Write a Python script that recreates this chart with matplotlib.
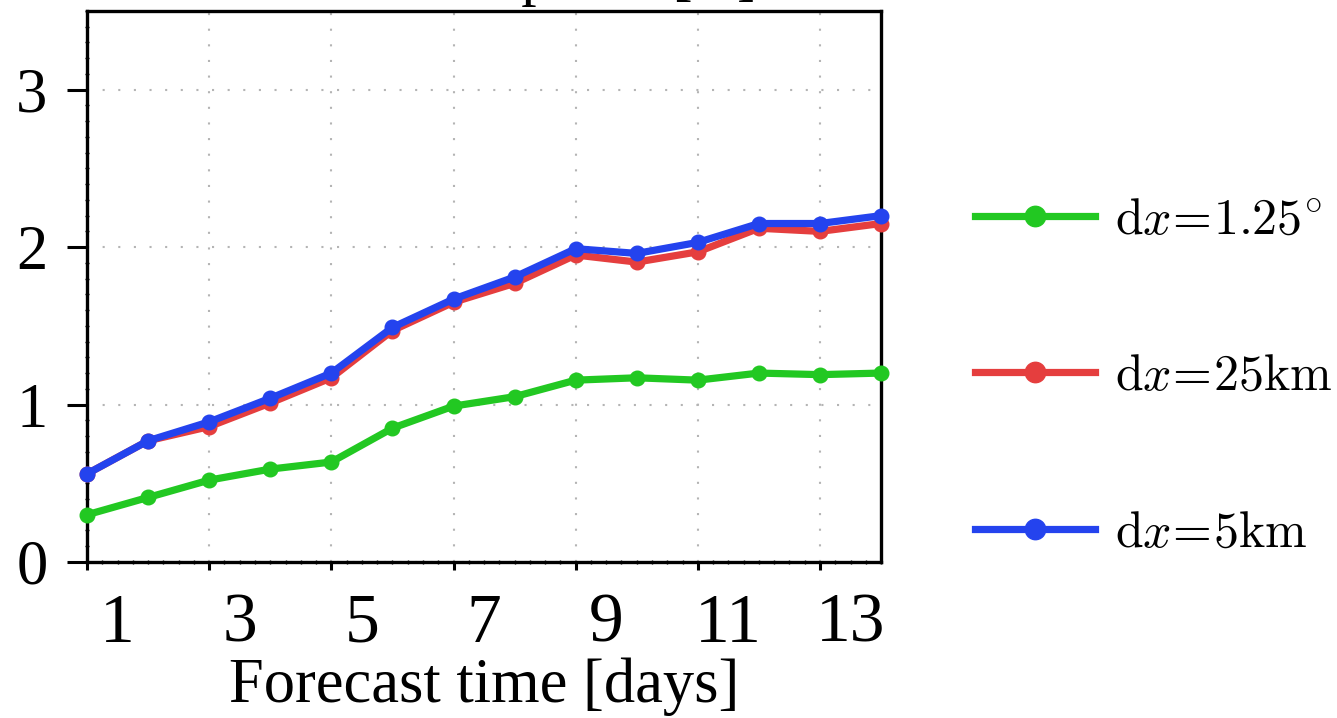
import matplotlib.pyplot as plt
from matplotlib.ticker import MultipleLocator

plt.rcParams['font.family'] = ['Liberation Serif', 'DejaVu Serif']
plt.rcParams['mathtext.fontset'] = 'cm'

## spread per forecast day for the three grid spacings
days = list(range(1, 15))
spread_125deg = [0.30, 0.41, 0.52, 0.59, 0.635, 0.85, 0.99, 1.05, 1.155, 1.17, 1.155, 1.20, 1.19, 1.20]
spread_25km = [0.56, 0.77, 0.86, 1.01, 1.17, 1.47, 1.65, 1.77, 1.95, 1.905, 1.97, 2.12, 2.10, 2.15]
spread_5km = [0.56, 0.77, 0.89, 1.04, 1.20, 1.49, 1.67, 1.81, 1.99, 1.96, 2.03, 2.15, 2.15, 2.20]

labels = [r"$\mathrm{d}x\!=\!1.25^{\circ}$", r"$\mathrm{d}x\!=\!25\mathrm{km}$", r"$\mathrm{d}x\!=\!5\mathrm{km}$"]
colors = ["#22c822", "#e53e3e", "#2443ee"]
day_ticks = [1, 3, 5, 7, 9, 11, 13]

fig = plt.figure(figsize=(13.37, 7.18), dpi=100)
ax = fig.add_axes([0.0651, 0.2173, 0.5939, 0.7674])

for ys, c, lab in zip([spread_125deg, spread_25km, spread_5km], colors, labels):
    ax.plot(days, ys, color=c, lw=5.2, marker="o", ms=10.5, label=lab, clip_on=False, zorder=3)

ax.set_xlim(1, 14)
ax.set_ylim(0, 3.5)
ax.set_xticks(day_ticks)
ax.xaxis.set_minor_locator(MultipleLocator(0.25))
ax.yaxis.set_major_locator(MultipleLocator(1))
ax.yaxis.set_minor_locator(MultipleLocator(0.1))

ax.tick_params(axis="x", which="major", direction="out", length=6, width=2.2, labelbottom=False)
ax.tick_params(axis="y", which="major", direction="out", length=14.5, width=2.2, labelsize=45, pad=14)
ax.tick_params(which="minor", direction="inout", length=3, width=1.0)
for s in ax.spines.values():
    s.set_linewidth(2.4)

## day numbers sit half a day right of their tick
for d in day_ticks:
    ax.text(d + 0.5, -0.145, str(d), transform=ax.get_xaxis_transform(),
            fontsize=50, ha="center", va="baseline")

ax.grid(True, which="major", color="#b4b4b4", lw=1.5, linestyle=(0, (1, 6.5)))
ax.set_axisbelow(True)

ax.set_xlabel("Forecast time [days]", fontsize=45)
ax.xaxis.set_label_coords(0.5, -0.255)
ax.xaxis.label.set_va("baseline")
fig.text(0.373, 1.0084, "Ensemble spread [K]", fontsize=44, ha="center", va="baseline")

fig.legend(loc="center left", bbox_to_anchor=(975 / 1337, 0.474), frameon=False, fontsize=36,
           handlelength=2.4, handletextpad=0.4, labelspacing=2.2, borderpad=0, borderaxespad=0,
           numpoints=1, markerscale=1.4)

fig.savefig("out.png", dpi=100)
